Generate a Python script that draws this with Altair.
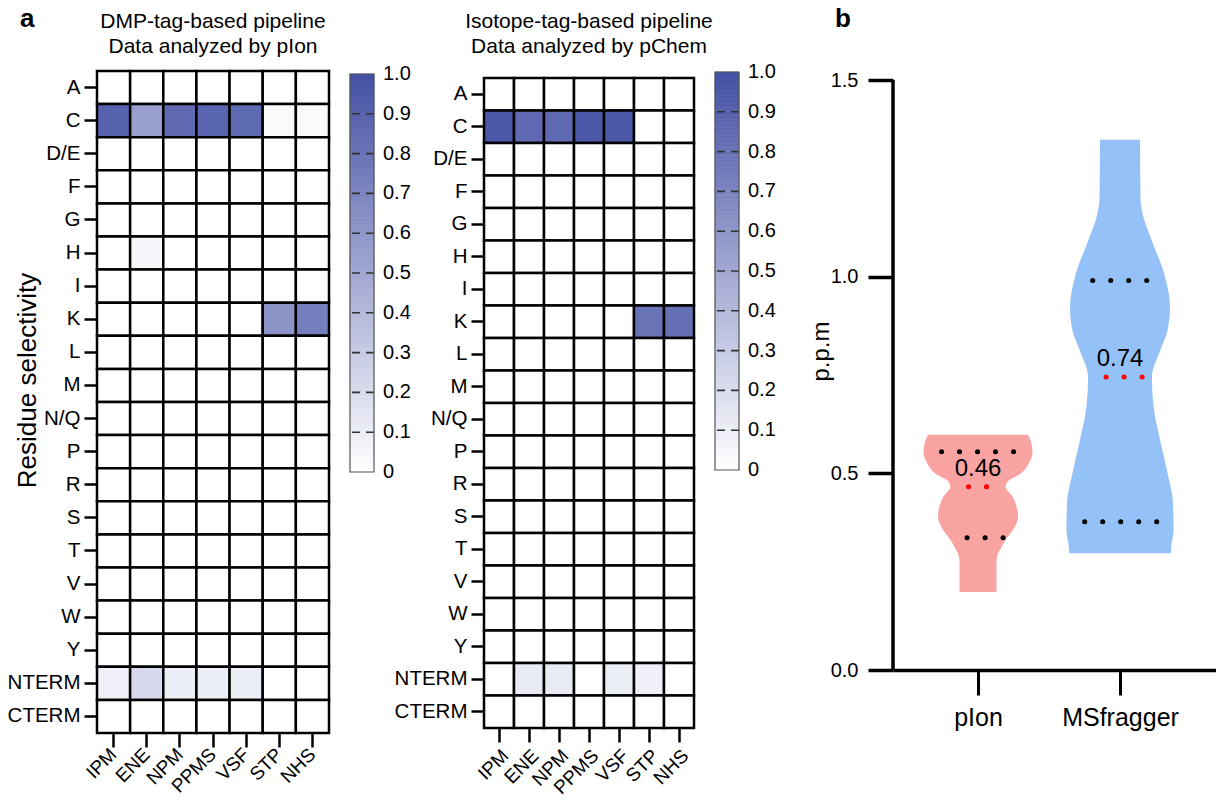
import altair as alt
import pandas as pd
import numpy as np

FONT = "Liberation Sans"

# ---------------- heatmap data ----------------
residues = ["A", "C", "D/E", "F", "G", "H", "I", "K", "L", "M", "N/Q", "P",
            "R", "S", "T", "V", "W", "Y", "NTERM", "CTERM"]
probes = ["IPM", "ENE", "NPM", "PPMS", "VSF", "STP", "NHS"]

# DMP-tag-based pipeline, pIon (rows not listed are 0)
dmp_C = [0.90, 0.55, 0.85, 0.88, 0.86, 0.03, 0.03]
dmp_H = [0.00, 0.05, 0.00, 0.00, 0.00, 0.00, 0.00]
dmp_K = [0.00, 0.00, 0.00, 0.00, 0.00, 0.61, 0.73]
dmp_NTERM = [0.09, 0.22, 0.10, 0.10, 0.10, 0.00, 0.00]

# Isotope-tag-based pipeline, pChem (rows not listed are 0)
iso_C = [0.96, 0.85, 0.85, 0.96, 0.95, 0.00, 0.00]
iso_K = [0.00, 0.00, 0.00, 0.00, 0.00, 0.80, 0.82]
iso_NTERM = [0.00, 0.12, 0.11, 0.00, 0.10, 0.09, 0.00]

title_dmp = ["DMP-tag-based pipeline", "Data analyzed by pIon"]
title_iso = ["Isotope-tag-based pipeline", "Data analyzed by pChem"]

# ---------------- violin data ----------------
tools = ["pIon", "MSfragger"]
tool_pos = [1, 2]
plon_ppm = [0.198, 0.25, 0.27, 0.288, 0.31, 0.336, 0.356, 0.39, 0.42, 0.44,
            0.466, 0.48, 0.50, 0.526, 0.555, 0.58, 0.598]
plon_half = [0.130, 0.130, 0.130, 0.134, 0.162, 0.204, 0.246, 0.282, 0.268, 0.246,
             0.194, 0.211, 0.303, 0.359, 0.384, 0.373, 0.352]
msf_ppm = [0.297, 0.305, 0.356, 0.425, 0.50, 0.585, 0.669, 0.745, 0.814, 0.864,
           0.923, 1.009, 1.093, 1.162, 1.20, 1.348]
msf_half = [0.359, 0.359, 0.377, 0.373, 0.335, 0.282, 0.236, 0.225, 0.285, 0.335,
            0.352, 0.310, 0.222, 0.158, 0.144, 0.141]
plon_quart = [0.336, 0.466, 0.555]
msf_quart = [0.377, 0.745, 0.990]
median_text = ["0.46", "0.74"]

leg_values = [round(i / 10, 1) for i in range(11)]
leg_labels = ["0"] + ["%.1f" % v for v in leg_values[1:]]

NOVIEW = alt.ViewBackground(stroke="transparent", strokeWidth=0)


def heat_df(rows):
    recs = []
    for r in residues:
        vals = rows.get(r, [0.0] * len(probes))
        for p, v in zip(probes, vals):
            recs.append({"residue": r, "probe": p, "value": v})
    return pd.DataFrame(recs)


dmp_df = heat_df({"C": dmp_C, "H": dmp_H, "K": dmp_K, "NTERM": dmp_NTERM})
iso_df = heat_df({"C": iso_C, "K": iso_K, "NTERM": iso_NTERM})


def cscale():
    return alt.Scale(domain=[0, 1], range=["#FFFFFF", "#4350A4"], interpolate="rgb")


def heatmap(df, title, width, height, pad_outer, x_offset, ytitle, panel, xbase):
    yaxis = alt.Axis(labelFontSize=20.5, labelFont=FONT, tickSize=13, tickWidth=2.5,
                     domain=False, labelPadding=4, labelColor="black", tickColor="black",
                     title=ytitle if ytitle else None,
                     titleFontSize=26, titleFont=FONT, titleFontWeight="normal",
                     titleAngle=270, titleX=-70, titleY=309, titleBaseline="middle",
                     titleAlign="center", titleColor="black")
    xaxis = alt.Axis(labelAngle=315, labelFontSize=19, labelFont=FONT, tickSize=14,
                     tickWidth=2.5, domain=False, labelPadding=4, title=None,
                     offset=x_offset, labelColor="black", tickColor="black",
                     labelAlign="right", labelBaseline=xbase)
    rect = alt.Chart(df).mark_rect(stroke="black", strokeWidth=2.5).encode(
        x=alt.X("probe:N", sort=probes, axis=xaxis,
                scale=alt.Scale(paddingInner=0, paddingOuter=0)),
        y=alt.Y("residue:N", sort=residues, axis=yaxis,
                scale=alt.Scale(paddingInner=0, paddingOuter=pad_outer)),
        color=alt.Color("value:Q", scale=cscale(), legend=None),
    )
    ttl = alt.Chart(pd.DataFrame({"t": ["\n".join(title)]})).mark_text(
        font=FONT, fontSize=21, align="center", baseline="alphabetic", lineBreak="\n",
        lineHeight=25, color="black").encode(
        x=alt.value(width / 2), y=alt.value(-43), text="t:N")
    layers = [rect, ttl]
    if panel:
        lab = alt.Chart(pd.DataFrame({"t": [panel]})).mark_text(
            font=FONT, fontSize=26, fontWeight="bold", align="left",
            baseline="alphabetic", color="black").encode(
            x=alt.value(-77), y=alt.value(-44), text="t:N")
        layers.append(lab)
    return alt.layer(*layers).properties(width=width, height=height, view=NOVIEW)


def colorbar(panel_w, height, top, gap):
    steps = np.linspace(0, 1, 101)
    df = pd.DataFrame({"lo": steps[:-1], "hi": steps[1:],
                       "mid": (steps[:-1] + steps[1:]) / 2})
    ys = alt.Scale(domain=[0, 1], range=[height, top], nice=False, zero=False)
    bands = alt.Chart(df).mark_rect(strokeWidth=0.6).encode(
        x=alt.value(gap), x2=alt.value(gap + 24),
        y=alt.Y("lo:Q", scale=ys, axis=None), y2="hi:Q",
        color=alt.Color("mid:Q", scale=cscale(), legend=None),
        stroke=alt.Stroke("mid:Q", scale=cscale(), legend=None))
    dashes = alt.Chart(pd.DataFrame({"lo": leg_values[1:-1]})).mark_rule(
        color="#333333", strokeWidth=1.6, strokeDash=[8, 6]).encode(
        x=alt.value(gap + 2), x2=alt.value(gap + 24), y=alt.Y("lo:Q", scale=ys, axis=None))
    frame = alt.Chart(pd.DataFrame({"lo": [0.0], "hi": [1.0]})).mark_rect(
        filled=False, stroke="#555555", strokeWidth=1.2).encode(
        x=alt.value(gap), x2=alt.value(gap + 24),
        y=alt.Y("lo:Q", scale=ys, axis=None), y2="hi:Q")
    labels = alt.Chart(pd.DataFrame({"lo": leg_values, "lab": leg_labels})).mark_text(
        font=FONT, fontSize=20, align="left", baseline="middle", color="black").encode(
        x=alt.value(gap + 33), y=alt.Y("lo:Q", scale=ys, axis=None), text="lab:N")
    return alt.layer(bands, dashes, frame, labels).properties(
        width=panel_w, height=height, view=NOVIEW)


h1 = heatmap(dmp_df, title_dmp, 232, 662, 0, 0, "Residue selectivity", "a", "middle")
h2 = heatmap(iso_df, title_iso, 210, 664, 7 / 32.5, -7, None, None, "top")
cb1 = colorbar(155, 401, 3, 21)
cb2 = colorbar(199, 399, 1, 21)

# ---------------- violin panel ----------------
PX = 142.0  # pixels per x unit (for dot inset)
vrecs = []
for t, c, ys, hs in [(tools[0], tool_pos[0], plon_ppm, plon_half),
                     (tools[1], tool_pos[1], msf_ppm, msf_half)]:
    for y, h in zip(ys, hs):
        vrecs.append({"tool": t, "ppm": y, "lo": c - h, "hi": c + h})
vdf = pd.DataFrame(vrecs)

qrecs = []
for t, c, ys, hs, qs, mt in [(tools[0], tool_pos[0], plon_ppm, plon_half, plon_quart, median_text[0]),
                             (tools[1], tool_pos[1], msf_ppm, msf_half, msf_quart, median_text[1])]:
    for i, q in enumerate(qs):
        h = float(np.interp(q, ys, hs))
        qrecs.append({"tool": t, "ppm": q, "lo": c - h + 18 / PX, "hi": c + h - 3 / PX,
                      "kind": "median" if i == 1 else "quartile", "label": mt, "pos": c})
qdf = pd.DataFrame(qrecs)

xscale = alt.Scale(domain=[0.4014, 2.676], nice=False, zero=False)
yscale = alt.Scale(domain=[0, 1.5229], nice=False)
vx_axis = alt.Axis(values=[1, 2], labelExpr="datum.value == 1 ? 'pIon' : 'MSfragger'",
                   tickSize=25, tickWidth=3, domainWidth=3.5, domainColor="black",
                   tickColor="black", labelFontSize=25, labelFont=FONT, labelPadding=10,
                   grid=False, title=None, labelColor="black")
vy_axis = alt.Axis(values=[0, 0.5, 1.0, 1.5], format=".1f", tickSize=25, tickWidth=3.5,
                   tickColor="black", domain=False, labelFontSize=20, labelFont=FONT,
                   labelPadding=10, grid=False, title="p.p.m", titleFontSize=24,
                   titleFont=FONT, titleFontWeight="normal", titleAngle=270, titleX=-72,
                   titleY=280, titleBaseline="middle", titleAlign="center",
                   labelColor="black", titleColor="black")

area = alt.Chart(vdf).mark_area(orient="horizontal", interpolate="monotone").encode(
    y=alt.Y("ppm:Q", scale=yscale, axis=vy_axis),
    x=alt.X("lo:Q", scale=xscale, axis=vx_axis),
    x2="hi:Q",
    color=alt.Color("tool:N", scale=alt.Scale(domain=tools, range=["#F9A3A3", "#94C1F8"]),
                    legend=None),
)
quart = alt.Chart(qdf).transform_filter("datum.kind == 'quartile'").mark_rule(
    color="black", strokeWidth=5, strokeCap="round", strokeDash=[0.1, 17.9]).encode(
    y=alt.Y("ppm:Q", scale=yscale, axis=vy_axis),
    x=alt.X("lo:Q", scale=xscale, axis=vx_axis), x2="hi:Q")
med = alt.Chart(qdf).transform_filter("datum.kind == 'median'").mark_rule(
    color="#FF0000", strokeWidth=5, strokeCap="round", strokeDash=[0.1, 17.9]).encode(
    y=alt.Y("ppm:Q", scale=yscale, axis=vy_axis),
    x=alt.X("lo:Q", scale=xscale, axis=vx_axis), x2="hi:Q")
medtxt = alt.Chart(qdf).transform_filter("datum.kind == 'median'").mark_text(
    font=FONT, fontSize=24, color="black", baseline="middle", dy=-18).encode(
    y=alt.Y("ppm:Q", scale=yscale, axis=vy_axis),
    x=alt.X("pos:Q", scale=xscale, axis=vx_axis), text="label:N")
yline = alt.Chart(pd.DataFrame({"v": [0]})).mark_rule(color="black", strokeWidth=3.5).encode(
    x=alt.value(0), y=alt.datum(0), y2=alt.datum(1.5))
blab = alt.Chart(pd.DataFrame({"t": ["b"]})).mark_text(
    font=FONT, fontSize=26, fontWeight="bold", align="left", baseline="alphabetic",
    color="black").encode(x=alt.value(-58), y=alt.value(-44), text="t:N")

vio = alt.layer(area, quart, med, medtxt, yline, blab).properties(
    width=323, height=599, view=NOVIEW)

chart = alt.hconcat(h1, cb1, h2, cb2, vio, spacing=0, bounds="flush") \
    .resolve_scale(color="independent") \
    .properties(padding={"left": 7, "top": 6, "right": 0, "bottom": 0}) \
    .configure_view(stroke="transparent", strokeWidth=0) \
    .configure(font=FONT)

chart.save("out.html", embed_options={"renderer": "svg", "actions": False})
